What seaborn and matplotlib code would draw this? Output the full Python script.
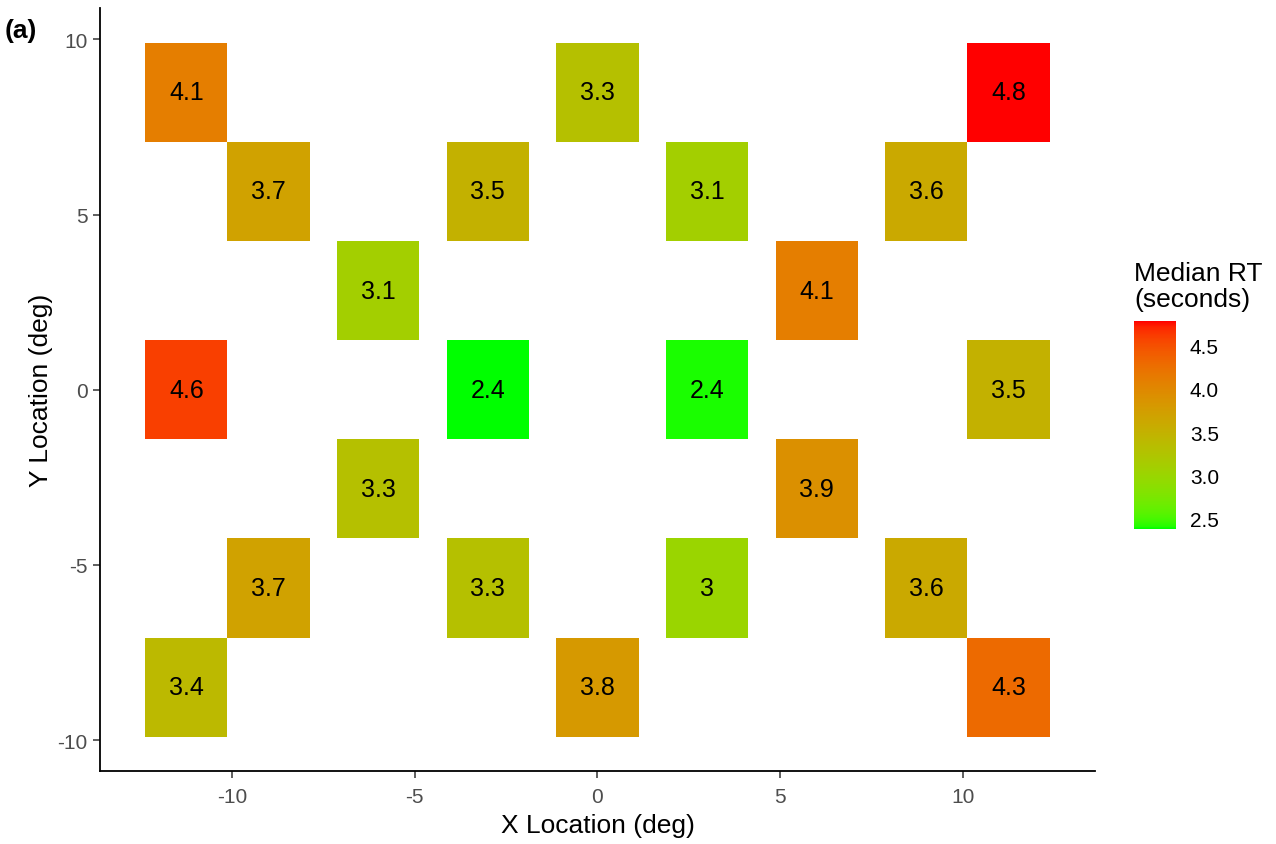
import numpy as np
import matplotlib
matplotlib.use("Agg")
import matplotlib.pyplot as plt
import matplotlib.colors as mcolors
import seaborn as sns

# tile centres (deg) and median RT (s), row by row from top
x_loc = [-11.25, 0, 11.25,
         -9, -3, 3, 9,
         -6, 6,
         -11.25, -3, 3, 11.25,
         -6, 6,
         -9, -3, 3, 9,
         -11.25, 0, 11.25]
y_loc = [8.49, 8.49, 8.49,
         5.66, 5.66, 5.66, 5.66,
         2.83, 2.83,
         0, 0, 0, 0,
         -2.83, -2.83,
         -5.66, -5.66, -5.66, -5.66,
         -8.49, -8.49, -8.49]
median_rt = [4.1, 3.3, 4.78,
             3.7, 3.5, 3.1, 3.6,
             3.1, 4.1,
             4.6, 2.38, 2.40, 3.5,
             3.3, 3.9,
             3.7, 3.3, 3.0, 3.6,
             3.4, 3.8, 4.3]
x_ticks = [-10, -5, 0, 5, 10]
y_ticks = [-10, -5, 0, 5, 10]
cbar_ticks = [2.5, 3.0, 3.5, 4.0, 4.5]


# green -> red gradient interpolated in CIELAB (like ggplot's scale_fill_gradient)
def srgb_to_lab(rgb):
    c = np.asarray(rgb, float)
    lin = np.where(c <= 0.04045, c / 12.92, ((c + 0.055) / 1.055) ** 2.4)
    m = np.array([[0.4124, 0.3576, 0.1805],
                  [0.2126, 0.7152, 0.0722],
                  [0.0193, 0.1192, 0.9505]])
    xyz = m @ lin / np.array([0.95047, 1.0, 1.08883])
    f = np.where(xyz > 0.008856, np.cbrt(xyz), 7.787 * xyz + 16 / 116)
    return np.array([116 * f[1] - 16, 500 * (f[0] - f[1]), 200 * (f[1] - f[2])])


def lab_to_srgb(lab):
    L, a, b = lab
    fy = (L + 16) / 116
    fx = fy + a / 500
    fz = fy - b / 200
    f = np.array([fx, fy, fz])
    xyz = np.where(f ** 3 > 0.008856, f ** 3, (f - 16 / 116) / 7.787)
    xyz = xyz * np.array([0.95047, 1.0, 1.08883])
    minv = np.array([[3.2406, -1.5372, -0.4986],
                     [-0.9689, 1.8758, 0.0415],
                     [0.0557, -0.2040, 1.0570]])
    lin = np.clip(minv @ xyz, 0, 1)
    c = np.where(lin <= 0.0031308, 12.92 * lin, 1.055 * lin ** (1 / 2.4) - 0.055)
    return np.clip(c, 0, 1)


lo = srgb_to_lab(mcolors.to_rgb("#00FF00"))
hi = srgb_to_lab(mcolors.to_rgb("#FF0000"))
ramp = [lab_to_srgb(lo + t * (hi - lo)) for t in np.linspace(0, 1, 256)]
cmap = mcolors.ListedColormap(ramp)
norm = mcolors.Normalize(vmin=min(median_rt), vmax=max(median_rt))

sns.set_theme(style="ticks")
plt.rcParams["font.family"] = ["Liberation Sans", "DejaVu Sans"]
plt.rcParams["axes.unicode_minus"] = False
plt.rcParams["text.color"] = "black"

fig = plt.figure(figsize=(12.76, 8.45), dpi=100)
ax = fig.add_axes([0.0784, 0.0858, 0.7797, 0.9035])

# tile size from data resolution
w = np.min(np.diff(np.unique(x_loc)))
h = np.min(np.diff(np.unique(y_loc)))
colors = [cmap(norm(v)) for v in median_rt]
ax.bar(x_loc, [h] * len(x_loc), width=w,
       bottom=[y - h / 2 for y in y_loc], color=colors, linewidth=0)
for x, y, v in zip(x_loc, y_loc, median_rt):
    ax.text(x, y, f"{round(v, 1):g}", ha="center", va="center",
            fontsize=18, color="black")

xmin, xmax = min(x_loc) - w / 2, max(x_loc) + w / 2
ymin, ymax = min(y_loc) - h / 2, max(y_loc) + h / 2
ax.set_xlim(xmin - 0.05 * (xmax - xmin), xmax + 0.05 * (xmax - xmin))
ax.set_ylim(ymin - 0.05 * (ymax - ymin), ymax + 0.05 * (ymax - ymin))
ax.set_xticks(x_ticks)
ax.set_yticks(y_ticks)
ax.tick_params(labelsize=15, labelcolor="#4D4D4D", color="#333333",
               length=5, width=1.1, pad=4)
ax.tick_params(axis="x", pad=6)
sns.despine(ax=ax)
for side in ["left", "bottom"]:
    ax.spines[side].set_color("black")
    ax.spines[side].set_linewidth(1.3)
ax.set_xlabel("X Location (deg)", fontsize=19, color="black", labelpad=5)
ax.set_ylabel("Y Location (deg)", fontsize=19, color="black", labelpad=3)

# colour bar legend
cax = fig.add_axes([0.8887, 0.3728, 0.0329, 0.2456])
sm = matplotlib.cm.ScalarMappable(norm=norm, cmap=cmap)
cb = fig.colorbar(sm, cax=cax, ticks=cbar_ticks, format="%.1f")
cb.outline.set_visible(False)
cax.tick_params(axis="y", direction="in", left=True, right=True,
                color="white", length=6, width=0.8, labelsize=15,
                labelcolor="black", pad=10)
fig.text(0.8887, 1 - 262 / 845, "Median RT\n(seconds)", ha="left", va="top",
         fontsize=19, linespacing=1.1, color="black")

fig.text(5 / 1276, 1 - 31 / 845, "(a)", ha="left", va="center",
         fontsize=19, fontweight="bold", color="black")

fig.savefig("out.png", dpi=100)
